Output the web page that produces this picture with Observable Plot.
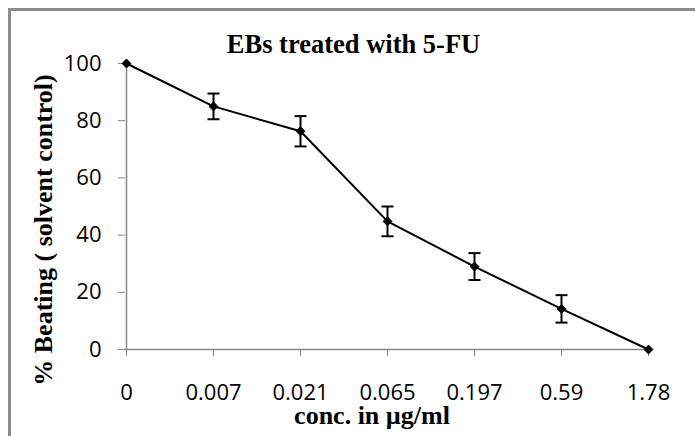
<!DOCTYPE html>
<html><head><meta charset="utf-8">
<script src="https://cdn.jsdelivr.net/npm/d3@7"></script>
<script src="https://cdn.jsdelivr.net/npm/@observablehq/plot@0.6"></script>
<style>
body{margin:0;background:#fff;}
#wrap{position:relative;width:695px;height:436px;overflow:hidden;background:#fff;}
#wrap svg{position:absolute;left:0;top:0;}
#border{position:absolute;left:8px;top:8px;width:800px;height:600px;border:3px solid #8c8c8c;box-sizing:border-box;pointer-events:none;}
</style></head><body>
<div id="wrap"><div id="border"></div></div>
<script>
const concLabels = ["0", "0.007", "0.021", "0.065", "0.197", "0.59", "1.78"];
const beating = [100, 85, 76.3, 44.8, 29, 14.2, 0];
const sem = [0, 4.5, 5.3, 5.2, 4.7, 4.8, 0];
const yTicks = [0, 20, 40, 60, 80, 100];
const titleText = "EBs treated with 5-FU";
const xLabel = "conc. in µg/ml";
const yLabel = "% Beating ( solvent control)";

const data = concLabels.map((c, i) => ({conc: c, value: beating[i], err: sem[i]}));
const errData = data.filter(d => d.err > 0);
const capSymbol = {draw(ctx) { ctx.moveTo(-6, 0); ctx.lineTo(6, 0); }};
const axisGray = "#868686";
const serif = "'Liberation Serif', 'Times New Roman', serif";

const chart = Plot.plot({
  width: 695,
  height: 436,
  marginLeft: 125,
  marginRight: 46,
  marginTop: 63,
  marginBottom: 87,
  style: {fontFamily: "'Open Sans', sans-serif", fontSize: "22px", background: "transparent", color: "black"},
  x: {type: "point", domain: concLabels, padding: 0},
  y: {domain: [0, 100]},
  marks: [
    Plot.ruleY([0], {stroke: axisGray, strokeWidth: 1.5}),
    Plot.ruleX([concLabels[0]], {stroke: axisGray, strokeWidth: 1.5}),
    Plot.axisX({tickSize: 7, tickPadding: 28, stroke: axisGray, fill: "black", label: null}),
    Plot.axisY({ticks: yTicks, tickSize: 7, tickPadding: 17, stroke: axisGray, fill: "black", label: null, tickFormat: d => String(d)}),
    Plot.line(data, {x: "conc", y: "value", stroke: "black", strokeWidth: 2}),
    Plot.ruleX(errData, {x: "conc", y1: d => d.value - d.err, y2: d => d.value + d.err, stroke: "black", strokeWidth: 2}),
    Plot.dot(errData, {x: "conc", y: d => d.value + d.err, symbol: capSymbol, r: 5, fill: "none", stroke: "black", strokeWidth: 2}),
    Plot.dot(errData, {x: "conc", y: d => d.value - d.err, symbol: capSymbol, r: 5, fill: "none", stroke: "black", strokeWidth: 2}),
    Plot.dot(data, {x: "conc", y: "value", symbol: "diamond2", r: 4, fill: "black", stroke: "black", strokeWidth: 1}),
    Plot.text([titleText], {frameAnchor: "top", textAnchor: "middle", lineAnchor: "top", dx: -34, dy: -29.5, fontFamily: serif, fontWeight: "bold", fontSize: 26.5, fill: "black"}),
    Plot.text([xLabel], {frameAnchor: "bottom", textAnchor: "middle", lineAnchor: "top", dx: -15.5, dy: 56.5, fontFamily: serif, fontWeight: "bold", fontSize: 26, fill: "black"}),
    Plot.text([yLabel], {frameAnchor: "left", textAnchor: "middle", lineAnchor: "top", rotate: -90, dx: -92, dy: 23.5, fontFamily: serif, fontWeight: "bold", fontSize: 26, fill: "black"})
  ]
});
document.getElementById("wrap").insertBefore(chart, document.getElementById("border"));
</script>
</body></html>
